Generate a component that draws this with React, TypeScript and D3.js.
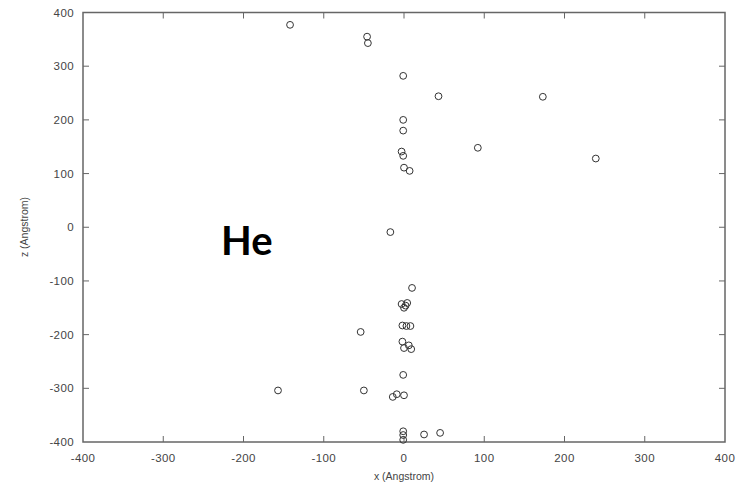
import React from "react";
import * as d3 from "d3";

// Scatter of He positions: x vs z, both in Angstrom
const xs: number[] = [
  -142, -46, -45, -1, 43, 173, 239, 92, -1, -1, -3, -1, 0, 7, -17,
  10, -3, 0, 2, 4, -2, 3, 8, -54, -2, 0, 6, 9, -1, -50, -157, -14, -9, 0,
  -1, -1, -1, 25, 45,
];
const zs: number[] = [
  377, 355, 343, 282, 244, 243, 128, 148, 200, 180, 141, 133, 111, 105, -9,
  -113, -143, -150, -146, -141, -183, -184, -184, -195, -213, -225, -220, -227, -275, -304, -304, -316, -311, -313,
  -380, -387, -396, -386, -383,
];
const xTicks: number[] = [-400, -300, -200, -100, 0, 100, 200, 300, 400];
const zTicks: number[] = [-400, -300, -200, -100, 0, 100, 200, 300, 400];

const W = 747;
const H = 489;
const left = 83;
const right = 725;
const top = 12.5;
const bottom = 442;

export default function App() {
  const x = d3.scaleLinear().domain([-400, 400]).range([left, right]);
  const y = d3.scaleLinear().domain([-400, 400]).range([bottom, top]);
  const tickLen = 6;
  const axisColor = "#666";
  const textColor = "#444";
  const font = "'Liberation Sans', Arial, sans-serif";

  return (
    <svg
      width={W}
      height={H}
      style={{ position: "absolute", left: 0, top: 0, background: "#fff" }}
      fontFamily={font}
    >
      {/* frame */}
      <rect
        x={left}
        y={top}
        width={right - left}
        height={bottom - top}
        fill="none"
        stroke={axisColor}
        strokeWidth={1.5}
      />
      {/* x ticks, bottom and top, pointing inward */}
      {xTicks.map((t) => (
        <g key={"x" + t}>
          {t > -400 && t < 400 && (
            <>
              <line x1={x(t)} x2={x(t)} y1={bottom} y2={bottom - tickLen} stroke={axisColor} strokeWidth={1} />
              <line x1={x(t)} x2={x(t)} y1={top} y2={top + tickLen} stroke={axisColor} strokeWidth={1} />
            </>
          )}
          <text
            x={x(t)}
            y={462}
            textAnchor="middle"
            fontSize={11.5}
            fill={textColor}
            letterSpacing={0.4}
          >
            {t}
          </text>
        </g>
      ))}
      {/* z ticks, left and right */}
      {zTicks.map((t) => (
        <g key={"z" + t}>
          {t > -400 && t < 400 && (
            <>
              <line x1={left} x2={left + tickLen} y1={y(t)} y2={y(t)} stroke={axisColor} strokeWidth={1} />
              <line x1={right} x2={right - tickLen} y1={y(t)} y2={y(t)} stroke={axisColor} strokeWidth={1} />
            </>
          )}
          <text
            x={74}
            y={y(t) + 4}
            textAnchor="end"
            fontSize={11.5}
            fill={textColor}
            letterSpacing={0.4}
          >
            {t}
          </text>
        </g>
      ))}
      {/* axis titles */}
      <text x={404} y={480} textAnchor="middle" fontSize={10.5} fill={textColor}>
        x (Angstrom)
      </text>
      <text
        transform={`translate(28, ${227}) rotate(-90)`}
        textAnchor="middle"
        fontSize={10.5}
        fill={textColor}
      >
        z (Angstrom)
      </text>
      {/* data points */}
      {xs.map((v, i) => (
        <circle
          key={i}
          cx={x(v)}
          cy={y(zs[i])}
          r={3.4}
          fill="none"
          stroke="#333"
          strokeWidth={1}
        />
      ))}
      {/* species label */}
      <text
        x={221}
        y={255}
        fontSize={40}
        fontWeight="bold"
        fontFamily="Lato, 'Open Sans', sans-serif"
        fill="#000"
      >
        He
      </text>
    </svg>
  );
}
